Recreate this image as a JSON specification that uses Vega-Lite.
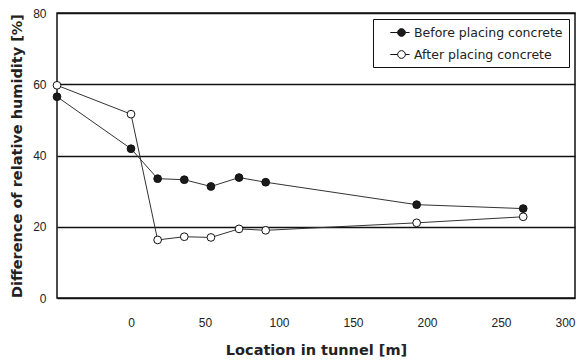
{
  "$schema": "https://vega.github.io/schema/vega-lite/v6.json",
  "width": 518,
  "height": 285,
  "autosize": {"type": "none"},
  "padding": {"left": 57, "top": 13, "right": 9, "bottom": 63},
  "background": "white",
  "config": {
    "font": "Liberation Sans",
    "view": {"stroke": "#111", "strokeWidth": 1.5},
    "axis": {"labelFont": "Liberation Sans", "titleFont": "DejaVu Sans", "labelColor": "#222", "titleColor": "#222"}
  },
  "datasets": {
    "ticks": [{"t": 0}, {"t": 50}, {"t": 100}, {"t": 150}, {"t": 200}, {"t": 250}]
  },
  "data": {
    "values": [
      {"x": -50, "y": 56.5, "series": "Before placing concrete"},
      {"x": 0, "y": 41.9, "series": "Before placing concrete"},
      {"x": 18, "y": 33.5, "series": "Before placing concrete"},
      {"x": 36, "y": 33.2, "series": "Before placing concrete"},
      {"x": 54, "y": 31.3, "series": "Before placing concrete"},
      {"x": 73, "y": 33.8, "series": "Before placing concrete"},
      {"x": 91, "y": 32.5, "series": "Before placing concrete"},
      {"x": 193, "y": 26.2, "series": "Before placing concrete"},
      {"x": 265, "y": 25.1, "series": "Before placing concrete"},
      {"x": -50, "y": 59.7, "series": "After placing concrete"},
      {"x": 0, "y": 51.6, "series": "After placing concrete"},
      {"x": 18, "y": 16.3, "series": "After placing concrete"},
      {"x": 36, "y": 17.2, "series": "After placing concrete"},
      {"x": 54, "y": 17.0, "series": "After placing concrete"},
      {"x": 73, "y": 19.4, "series": "After placing concrete"},
      {"x": 91, "y": 19.0, "series": "After placing concrete"},
      {"x": 193, "y": 21.1, "series": "After placing concrete"},
      {"x": 265, "y": 22.8, "series": "After placing concrete"}
    ]
  },
  "encoding": {
    "x": {
      "field": "x", "type": "quantitative",
      "scale": {"domain": [-50, 300], "nice": false, "zero": false},
      "axis": {
        "title": "Location in tunnel [m]",
        "values": [0, 50, 100, 150, 200, 250, 300],
        "grid": false, "domain": false, "ticks": false,
        "labelPadding": 19, "labelFontSize": 12,
        "titleFontSize": 14.5, "titleFontWeight": "bold", "titlePadding": 15
      }
    },
    "y": {
      "field": "y", "type": "quantitative",
      "scale": {"domain": [0, 80], "nice": false},
      "axis": {
        "title": "Difference of relative humidity [%]",
        "values": [0, 20, 40, 60, 80],
        "grid": true, "gridColor": "#111", "gridWidth": 1.5, "gridOpacity": 1,
        "domain": false, "ticks": false,
        "labelPadding": 11, "labelFontSize": 12,
        "titleFontSize": 14.5, "titleFontWeight": "bold", "titlePadding": 8
      }
    }
  },
  "layer": [
    {
      "data": {"name": "ticks"},
      "mark": {"type": "rule", "color": "#111", "strokeWidth": 1.5},
      "encoding": {
        "x": {"field": "t", "type": "quantitative"},
        "y": {"datum": 0},
        "y2": {"datum": 1.6}
      }
    },
    {
      "mark": {"type": "line", "color": "#333", "strokeWidth": 1},
      "encoding": {"detail": {"field": "series"}}
    },
    {
      "mark": {"type": "point", "filled": true, "stroke": "#111", "strokeWidth": 1, "size": 60, "opacity": 1, "shape": "circle"},
      "encoding": {
        "fill": {
          "field": "series", "type": "nominal",
          "scale": {"domain": ["Before placing concrete", "After placing concrete"], "range": ["#1a1a1a", "white"]},
          "legend": {
            "title": "\u2003",
            "titleOrient": "right",
            "titleFontSize": 13,
            "titlePadding": 0,
            "orient": "top-right",
            "offset": 6,
            "padding": 6,
            "strokeColor": "#111",
            "fillColor": "white",
            "symbolType": "M-1.6,0H-0.55M0.55,0H1.15M-0.55,0A0.55,0.55,0,1,1,0.55,0A0.55,0.55,0,1,1,-0.55,0Z",
            "symbolSize": 196,
            "symbolOffset": 15,
            "symbolStrokeColor": "#111",
            "symbolStrokeWidth": 1,
            "labelFont": "DejaVu Sans",
            "labelFontSize": 12.5,
            "labelColor": "#222",
            "labelOffset": 5,
            "rowPadding": 8
          }
        }
      }
    }
  ]
}
